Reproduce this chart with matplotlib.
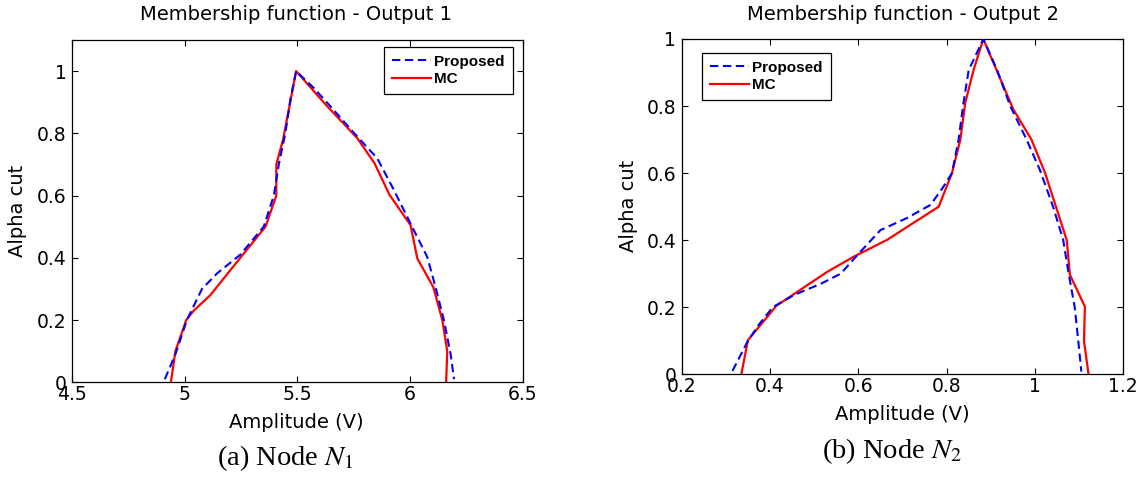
import matplotlib
matplotlib.use("Agg")
import matplotlib.pyplot as plt
from matplotlib.ticker import FuncFormatter

plt.rcParams['font.family'] = ['DejaVu Sans']
plt.rcParams['mathtext.fontset'] = 'stix'

# ---------------- data ----------------
# Output 1 (Node N1)
prop1_x = [4.912, 4.959, 5.010, 5.077, 5.144, 5.247, 5.351, 5.396, 5.418, 5.447, 5.470, 5.495,
           5.573, 5.647, 5.766, 5.855, 5.929, 6.003, 6.077, 6.114, 6.151, 6.181, 6.196]
prop1_y = [0.01, 0.09, 0.20, 0.30, 0.35, 0.41, 0.50, 0.60, 0.70, 0.80, 0.91, 1.00,
           0.946, 0.887, 0.79, 0.72, 0.618, 0.51, 0.403, 0.306, 0.20, 0.09, 0.01]
mc1_x = [4.939, 4.959, 5.007, 5.040, 5.114, 5.247, 5.359, 5.407, 5.407, 5.437, 5.495,
         5.633, 5.766, 5.843, 5.910, 6.003, 6.033, 6.104, 6.144, 6.166, 6.161]
mc1_y = [0.0, 0.10, 0.20, 0.23, 0.28, 0.40, 0.50, 0.60, 0.70, 0.78, 1.00,
         0.887, 0.785, 0.704, 0.602, 0.505, 0.398, 0.306, 0.20, 0.10, 0.0]

# Output 2 (Node N2)
prop2_x = [0.315, 0.350, 0.376, 0.406, 0.455, 0.515, 0.560, 0.605, 0.650, 0.710, 0.763, 0.789,
           0.812, 0.827, 0.838, 0.850, 0.861, 0.883, 0.914, 0.944, 0.981, 1.011, 1.041,
           1.064, 1.075, 1.090, 1.098, 1.105]
prop2_y = [0.01, 0.10, 0.15, 0.20, 0.237, 0.27, 0.30, 0.366, 0.43, 0.466, 0.505, 0.552,
           0.60, 0.70, 0.809, 0.908, 0.938, 1.00, 0.908, 0.80, 0.70, 0.61, 0.50,
           0.40, 0.31, 0.20, 0.10, 0.008]
mc2_x = [0.335, 0.350, 0.391, 0.414, 0.530, 0.590, 0.665, 0.782, 0.812, 0.831, 0.842, 0.861,
         0.883, 0.951, 0.992, 1.023, 1.072, 1.079, 1.113, 1.111, 1.121]
mc2_y = [0.0, 0.102, 0.167, 0.204, 0.306, 0.351, 0.401, 0.50, 0.60, 0.70, 0.809, 0.908,
         1.00, 0.79, 0.70, 0.60, 0.40, 0.297, 0.202, 0.098, 0.003]

xticks1 = [4.5, 5.0, 5.5, 6.0, 6.5]
xticks2 = [0.2, 0.4, 0.6, 0.8, 1.0, 1.2]
yticks = [0.0, 0.2, 0.4, 0.6, 0.8, 1.0]
titles = ["Membership function - Output 1", "Membership function - Output 2"]
xlabel = "Amplitude (V)"
ylabel = "Alpha cut"
captions = [r"(a) Node $N_1$", r"(b) Node $N_2$"]
legend_labels = ["Proposed", "MC"]

# ---------------- layout ----------------
W, H = 1146, 478
fig = plt.figure(figsize=(W / 100, H / 100), dpi=100)


def ax_rect(l, t, r, b):
    return [l / W, 1 - b / H, (r - l) / W, (b - t) / H]


def fx(px):
    return px / W


def fy(py):
    return 1 - py / H


ax1 = fig.add_axes(ax_rect(72, 40, 522.5, 382.3))
ax2 = fig.add_axes(ax_rect(681.7, 39, 1123.3, 374.3))

fmt = FuncFormatter(lambda v, p: ('%g' % round(v, 3)))

for ax, px, py, mx, my, xt, xl, yl in [
        (ax1, prop1_x, prop1_y, mc1_x, mc1_y, xticks1, (4.5, 6.5), (0, 1.1)),
        (ax2, prop2_x, prop2_y, mc2_x, mc2_y, xticks2, (0.2, 1.2), (0, 1.0))]:
    ax.plot(px, py, color=(0, 0, 1), lw=1.5, dashes=(4, 2.2), label=legend_labels[0], zorder=3)
    ax.plot(mx, my, color=(1, 0, 0), lw=1.6, label=legend_labels[1], zorder=2)
    ax.set_xlim(*xl)
    ax.set_ylim(*yl)
    ax.set_xticks(xt)
    ax.set_yticks(yticks)
    ax.xaxis.set_major_formatter(fmt)
    ax.yaxis.set_major_formatter(fmt)
    ax.tick_params(direction='in', length=4, width=0.8, top=True, right=True,
                   labelsize=13.5, colors='black')
    ax.tick_params(axis='x', pad=2)
    ax.tick_params(axis='y', pad=4)
    for s in ax.spines.values():
        s.set_linewidth(0.9)
        s.set_color('black')

# legends
leg_kw = dict(bbox_transform=fig.transFigure, borderaxespad=0, loc='upper left',
              prop={'family': 'Liberation Sans', 'weight': 'bold', 'size': 11},
              handlelength=2.6, handletextpad=0.2, labelspacing=0.25,
              borderpad=0.5, fancybox=False, framealpha=1, edgecolor='black')
leg1 = ax1.legend(bbox_to_anchor=(fx(384), fy(47)), **leg_kw)
leg2 = ax2.legend(bbox_to_anchor=(fx(702), fy(53)), **leg_kw)
for leg in (leg1, leg2):
    leg.get_frame().set_linewidth(0.9)

# titles, labels, captions
fs = 14
fig.text(fx(296), fy(15), titles[0], ha='center', va='center', fontsize=fs)
fig.text(fx(903), fy(15), titles[1], ha='center', va='center', fontsize=fs)
fig.text(fx(296), fy(423), xlabel, ha='center', va='center', fontsize=fs)
fig.text(fx(902), fy(415), xlabel, ha='center', va='center', fontsize=fs)
fig.text(fx(18), fy(211), ylabel, ha='center', va='center', rotation=90, fontsize=fs)
fig.text(fx(629), fy(206), ylabel, ha='center', va='center', rotation=90, fontsize=fs)
fig.text(fx(285), fy(458), captions[0], ha='center', va='center', fontsize=20.5,
         family='Liberation Serif')
fig.text(fx(892), fy(451), captions[1], ha='center', va='center', fontsize=20.5,
         family='Liberation Serif')

fig.savefig("out.png", dpi=100)
